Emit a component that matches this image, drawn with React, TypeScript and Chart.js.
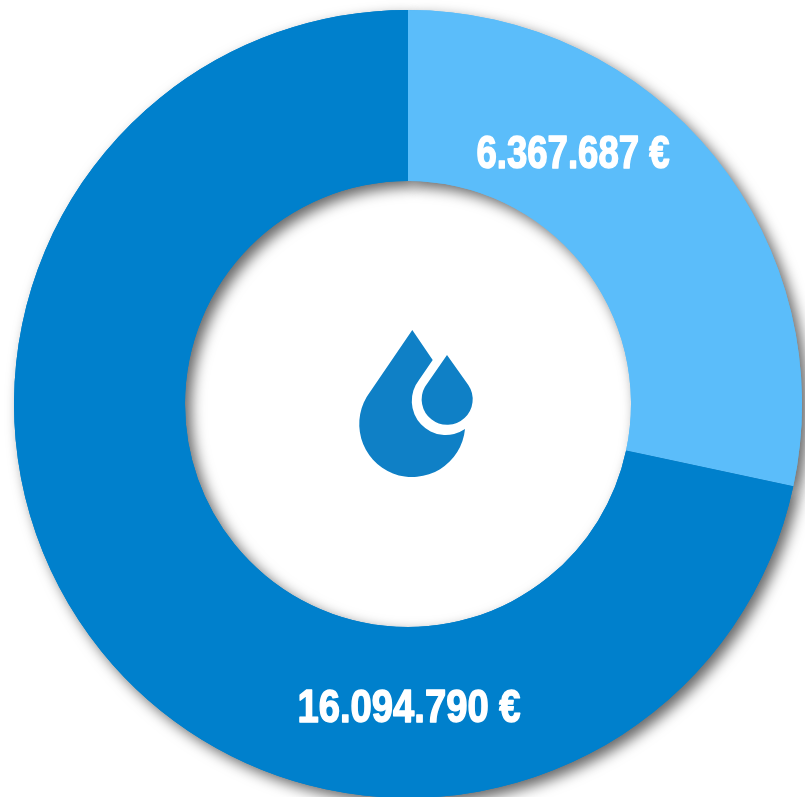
import React, { useEffect, useRef } from "react";
import { Chart, registerables } from "chart.js";

Chart.register(...registerables);

const categories = ["Segmento A", "Segmento B"];
const values = [6367687, 16094790];
const valueLabels = ["6.367.687 €", "16.094.790 €"];
const colors = ["#5BBDFA", "#0080CC"];
const labelStyles = [
  { dx: 165, dy: -249, scaleX: 0.795 },
  { dx: 1, dy: 305, scaleX: 0.83 },
];
const ICON_PATH =
  "M4.3 -74 L24.7 -44 L11 -24 A34 34 0 0 0 57 25 A53 53 0 1 1 -38 -12 Z M39 -49 L60.3 -19 A25.5 25.5 0 1 1 17 -17.3 Z";

const shadowPlugin = {
  id: "ringShadow",
  beforeDatasetsDraw(chart: any) {
    const c = chart.ctx;
    c.save();
    c.shadowColor = "rgba(0,0,0,0.6)";
    c.shadowBlur = 14;
    c.shadowOffsetX = 6;
    c.shadowOffsetY = 6;
    chart.getDatasetMeta(0).data.forEach((arc: any) => arc.draw(c));
    c.restore();
  },
};

const centerPlugin = {
  id: "centerAndLabels",
  afterDraw(chart: any) {
    const c = chart.ctx;
    const { x, y } = chart.getDatasetMeta(0).data[0];
    c.save();
    c.font = 'bold 46px "Liberation Sans", sans-serif';
    c.textAlign = "center";
    c.textBaseline = "middle";
    c.fillStyle = "#FFFFFF";
    c.strokeStyle = "#FFFFFF";
    c.lineWidth = 1.5;
    c.lineJoin = "round";
    valueLabels.forEach((t, i) => {
      const p = labelStyles[i];
      c.save();
      c.translate(x + p.dx, y + p.dy);
      c.scale(p.scaleX, 1);
      c.fillText(t, 0, 0);
      c.strokeText(t, 0, 0);
      c.restore();
    });
    c.translate(x, y);
    c.fillStyle = "#0F80C6";
    c.fill(new Path2D(ICON_PATH));
    c.restore();
  },
};

export default function App() {
  const ref = useRef<HTMLCanvasElement>(null);
  useEffect(() => {
    document.body.style.margin = "0";
    document.body.style.background = "#FFFFFF";
    const chart = new Chart(ref.current as HTMLCanvasElement, {
      type: "doughnut",
      data: {
        labels: categories,
        datasets: [
          {
            data: values,
            backgroundColor: colors,
            borderWidth: 0,
            hoverOffset: 0,
          },
        ],
      },
      options: {
        animation: false,
        responsive: false,
        radius: 394,
        cutout: "56.6%",
        layout: { padding: 0 },
        plugins: {
          legend: { display: false },
          tooltip: { enabled: false },
        },
      },
      plugins: [shadowPlugin, centerPlugin],
    } as any);
    return () => chart.destroy();
  }, []);
  return (
    <div style={{ width: 805, height: 797, overflow: "hidden", position: "relative" }}>
      <canvas
        ref={ref}
        width={816}
        height={808}
        style={{ position: "absolute", left: 0, top: 0, width: 816, height: 808 }}
      />
    </div>
  );
}
